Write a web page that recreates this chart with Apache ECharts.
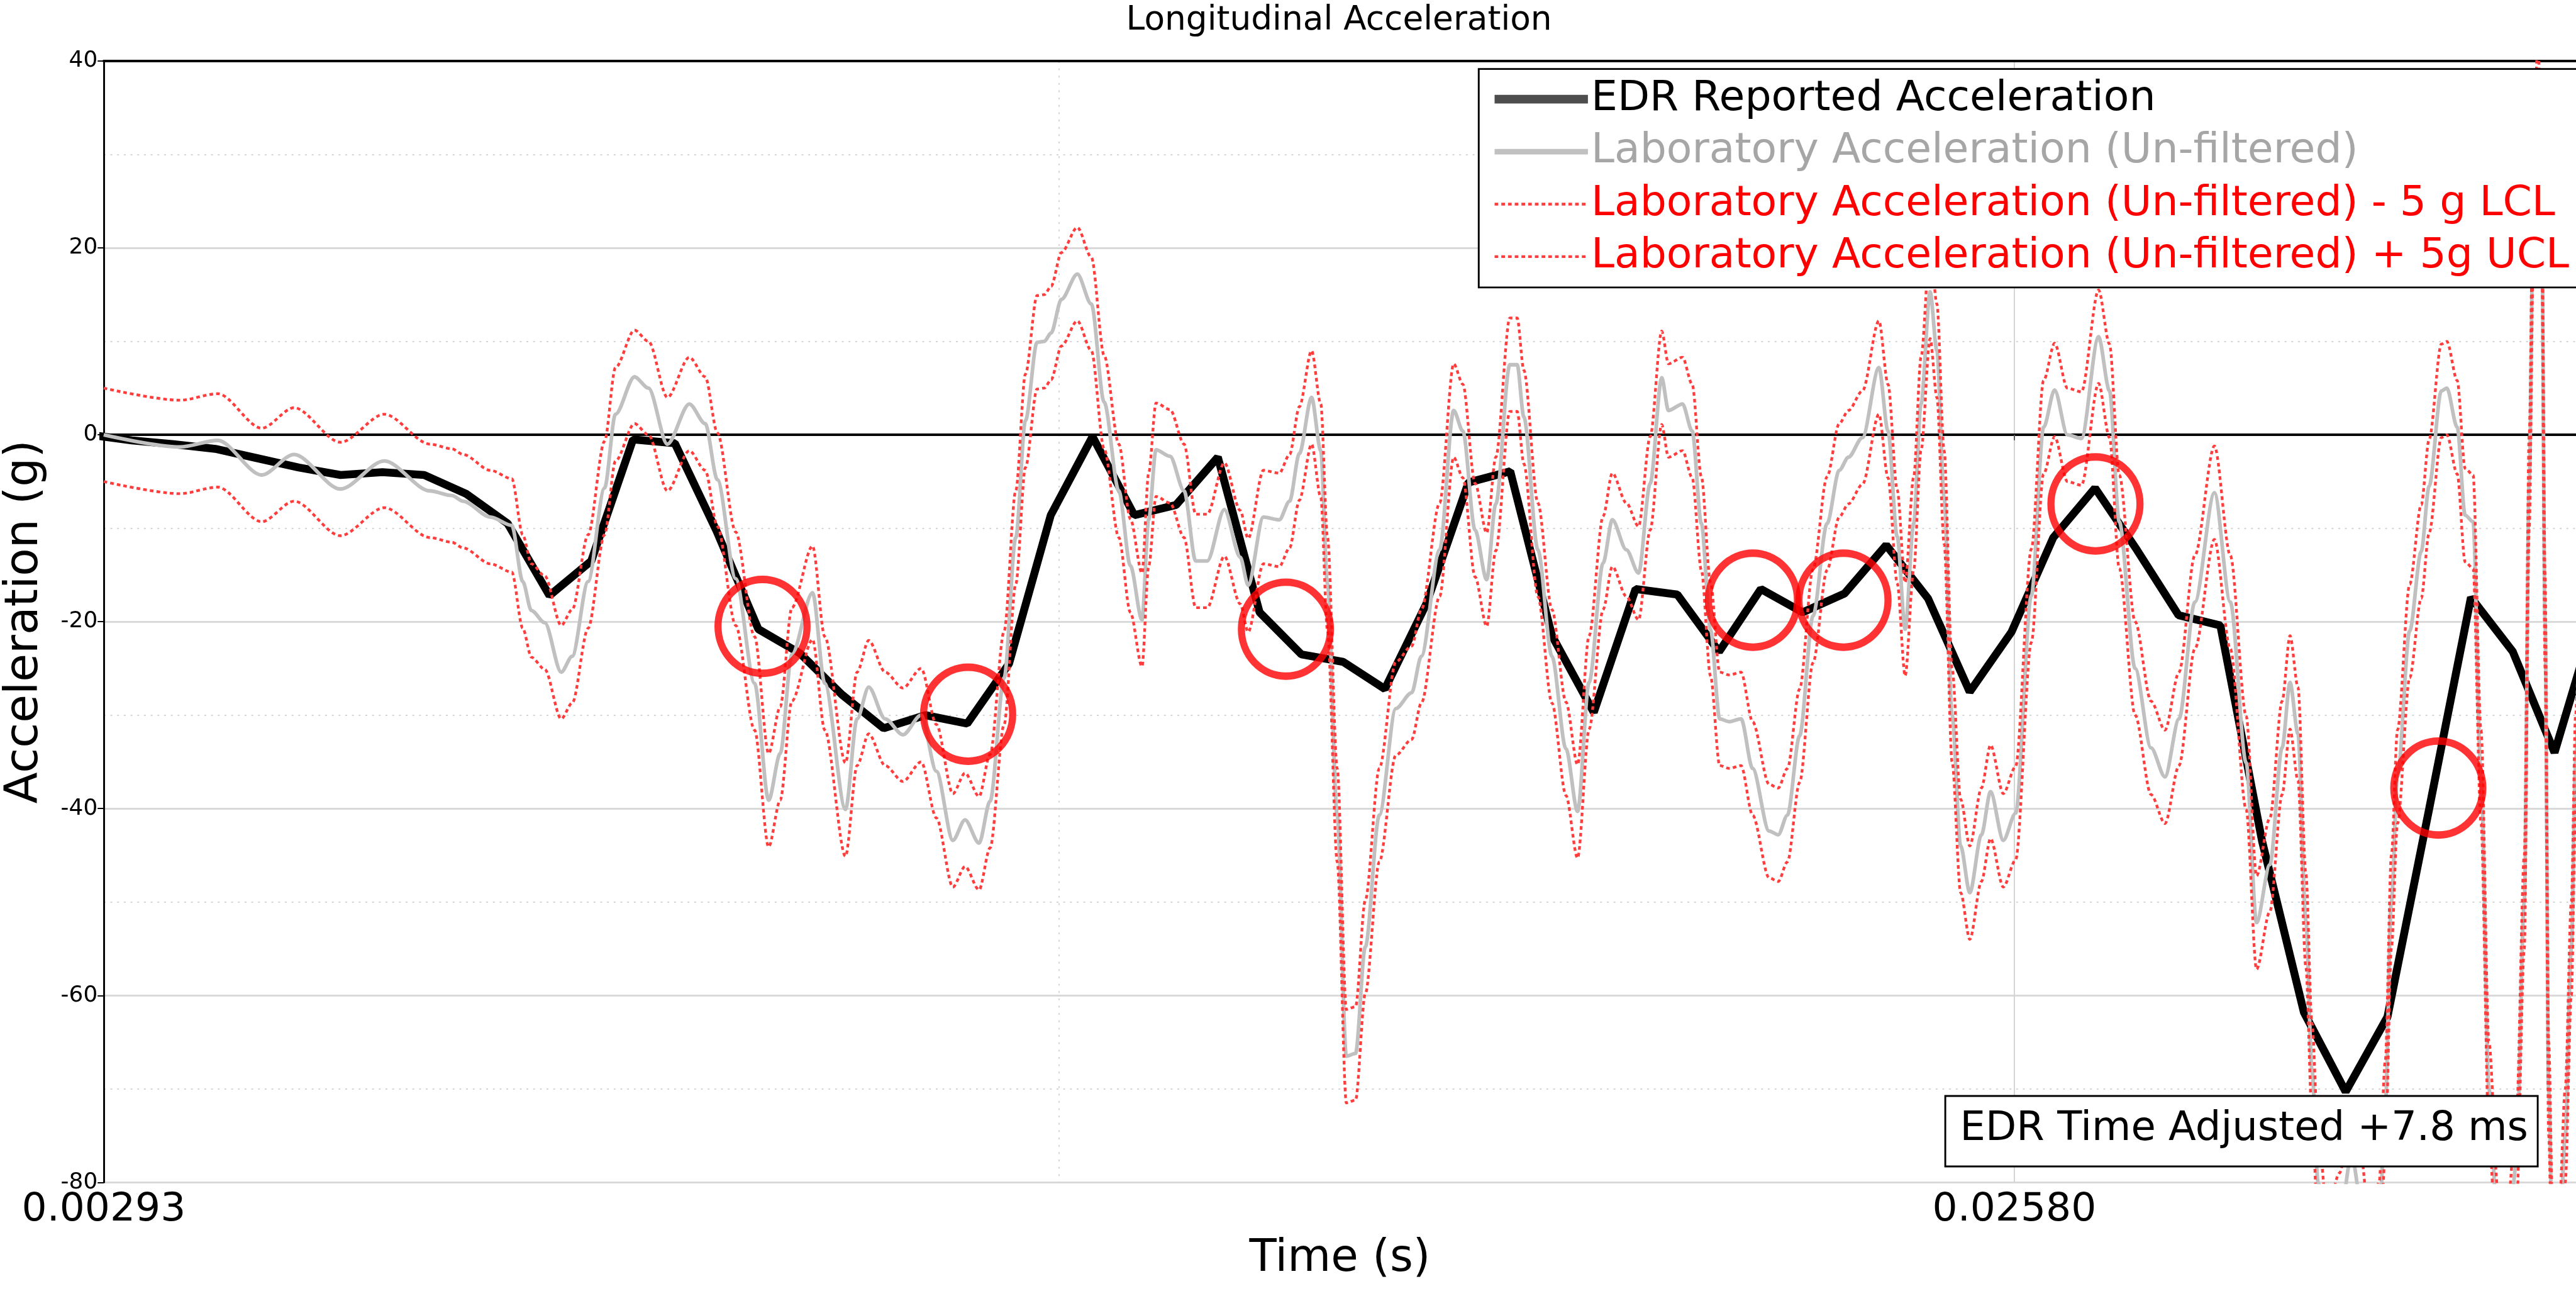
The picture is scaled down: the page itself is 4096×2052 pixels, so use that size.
<!DOCTYPE html>
<html>
<head>
<meta charset="utf-8">
<title>Longitudinal Acceleration</title>
<script src="https://cdn.jsdelivr.net/npm/echarts@6.0.0/dist/echarts.min.js"></script>
<style>
  html, body { margin: 0; padding: 0; background: #fff; }
  #chart { width: 4096px; height: 2052px; }
</style>
</head>
<body>
<div id="chart"></div>
<script>
// everything below is laid out in reference pixels and scaled by S
const S = 0.97;
const FONT = 'DejaVu Sans';

// EDR reported acceleration, 0.5 ms samples (time already shifted +7.8 ms)
const edrTime = [
  0.002766, 0.003266, 0.003766, 0.004266, 0.004766, 0.005266, 0.005766, 0.006266, 0.006766, 0.007266,
  0.007766, 0.008266, 0.008766, 0.009266, 0.009766, 0.010266, 0.010766, 0.011266, 0.011766, 0.012266,
  0.012766, 0.013266, 0.013766, 0.014266, 0.014766, 0.015266, 0.015766, 0.016266, 0.016766, 0.017266,
  0.017766, 0.018266, 0.018766, 0.019266, 0.019766, 0.020266, 0.020766, 0.021266, 0.021766, 0.022266,
  0.022766, 0.023266, 0.023766, 0.024266, 0.024766, 0.025266, 0.025766, 0.026266, 0.026766, 0.027266,
  0.027766, 0.028266, 0.028766, 0.029266, 0.029766, 0.030266, 0.030766, 0.031266, 0.031766, 0.032266,
  0.032766
];
const edrAccel = [
  0.0, -0.6, -1.0, -1.5, -2.5, -3.5, -4.3, -4.0, -4.3, -6.3,
  -9.5, -17.2, -13.5, -0.5, -0.9, -10.3, -20.8, -23.4, -27.8, -31.4,
  -30.0, -30.9, -24.5, -8.6, -0.2, -8.6, -7.5, -2.4, -19.0, -23.5,
  -24.3, -27.2, -18.0, -5.1, -3.9, -21.5, -29.7, -16.5, -17.1, -23.2,
  -16.5, -19.0, -17.0, -11.8, -17.5, -27.5, -21.1, -11.0, -5.7, -12.3,
  -19.3, -20.4, -43.5, -61.8, -70.3, -62.3, -40.0, -17.4, -23.2, -34.0,
  -19.0
];

// laboratory acceleration (un-filtered)
const labTime = [
  0.002930, 0.003843, 0.004295, 0.004821, 0.005208, 0.005763, 0.006289, 0.006837, 0.007099, 0.007231,
  0.007559, 0.007815, 0.007946, 0.008049, 0.008209, 0.008406, 0.008538, 0.008728, 0.008925, 0.009056,
  0.009283, 0.009451, 0.009677, 0.009940, 0.010130, 0.010276, 0.010495, 0.010721, 0.010889, 0.011028,
  0.011167, 0.011415, 0.011561, 0.011809, 0.011948, 0.012087, 0.012284, 0.012496, 0.012715, 0.012897,
  0.013094, 0.013240, 0.013408, 0.013540, 0.013708, 0.013847, 0.013963, 0.014102, 0.014190, 0.014270,
  0.014394, 0.014584, 0.014752, 0.014905, 0.015081, 0.015219, 0.015358, 0.015438, 0.015526, 0.015694,
  0.015862, 0.016001, 0.016139, 0.016344, 0.016534, 0.016629, 0.016811, 0.017001, 0.017125, 0.017242,
  0.017388, 0.017498, 0.017578, 0.017695, 0.017804, 0.017914, 0.018031, 0.018199, 0.018396, 0.018586,
  0.018702, 0.018921, 0.019089, 0.019199, 0.019345, 0.019484, 0.019593, 0.019761, 0.019849, 0.019929,
  0.020097, 0.020265, 0.020433, 0.020572, 0.020710, 0.020878, 0.020988, 0.021156, 0.021302, 0.021441,
  0.021579, 0.021660, 0.021828, 0.021944, 0.022054, 0.022163, 0.022273, 0.022390, 0.022529, 0.022667,
  0.022864, 0.022974, 0.023084, 0.023230, 0.023390, 0.023558, 0.023704, 0.023814, 0.023982, 0.024179,
  0.024288, 0.024398, 0.024493, 0.024595, 0.024683, 0.024792, 0.024873, 0.024960, 0.025055, 0.025157,
  0.025267, 0.025406, 0.025515, 0.025668, 0.025815, 0.026004, 0.026150, 0.026282, 0.026435, 0.026603,
  0.026808, 0.026939, 0.027056, 0.027246, 0.027436, 0.027603, 0.027771, 0.027961, 0.028195, 0.028385,
  0.028575, 0.028699, 0.028859, 0.029005, 0.029100, 0.029195, 0.029290, 0.029363, 0.029436, 0.029546,
  0.029692, 0.029838, 0.029947, 0.030057, 0.030166, 0.030240, 0.030313, 0.030386, 0.030532, 0.030670,
  0.030765, 0.030911, 0.030977, 0.031101, 0.031196, 0.031291, 0.031386, 0.031481, 0.031590, 0.031700,
  0.031809, 0.031904, 0.031963, 0.032014, 0.032065, 0.032109, 0.032153, 0.032196, 0.032248, 0.032321,
  0.032394, 0.032467, 0.032518, 0.032613
];
const labAccel = [
  0.0, -1.3, -0.6, -4.3, -2.1, -5.8, -2.8, -6.0, -6.5, -7.1,
  -8.8, -9.7, -15.7, -18.8, -20.1, -25.4, -23.7, -15.7, -5.7, 2.2,
  6.2, 5.0, -1.0, 3.3, 1.2, -4.8, -15.4, -26.6, -39.1, -34.1,
  -23.5, -16.9, -26.6, -40.1, -30.4, -27.0, -30.4, -32.1, -30.0, -36.0,
  -43.4, -41.2, -43.7, -39.2, -26.0, -11.0, 1.5, 9.9, 10.0, 10.9,
  14.5, 17.2, 14.0, 3.5, -6.0, -14.0, -19.8, -9.1, -1.6, -2.3,
  -6.0, -13.5, -13.5, -8.0, -13.1, -16.1, -8.8, -9.1, -7.1, -2.0,
  4.0, -1.7, -15.9, -40.7, -66.5, -66.2, -54.8, -40.7, -29.3, -27.6,
  -23.7, -12.3, 2.6, 0.4, -10.2, -15.5, -7.4, 7.5, 7.5, 1.9,
  -12.3, -23.7, -33.6, -40.3, -26.5, -13.7, -9.1, -12.3, -14.8, -5.2,
  6.1, 2.6, 3.3, 0.4, -9.5, -20.8, -30.4, -30.7, -30.4, -35.7,
  -42.4, -42.8, -40.7, -32.2, -19.4, -9.5, -3.8, -2.4, -0.3, 7.2,
  0.4, -10.9, -20.8, -9.5, 3.3, 15.3, 9.0, -6.7, -30.0, -44.0,
  -49.0, -42.8, -38.2, -43.4, -40.5, -17.2, 0.8, 4.8, 0.0, -0.4,
  10.5, 4.7, -9.3, -25.0, -33.5, -36.6, -30.4, -17.9, -6.2, -17.9,
  -35.1, -52.2, -46.0, -33.5, -26.5, -32.0, -52.0, -68.0, -80.0, -88.0,
  -84.0, -77.0, -82.0, -90.0, -85.0, -72.0, -50.0, -36.6, -21.0, -12.5,
  -5.5, 4.7, 5.0, 0.8, -8.6, -9.3, -36.6, -70.0, -86.0, -88.0,
  -78.0, -50.0, -5.0, 25.0, 37.0, 28.0, -20.0, -70.0, -90.0, -88.0,
  -75.0, -55.0, -35.0, 0.0
];
// lower control limit (lab - 5 g)
const labLower = [
  -5.0, -6.3, -5.6, -9.3, -7.1, -10.8, -7.8, -11.0, -11.5, -12.1,
  -13.8, -14.7, -20.7, -23.8, -25.1, -30.4, -28.7, -20.7, -10.7, -2.8,
  1.2, 0.0, -6.0, -1.7, -3.8, -9.8, -20.4, -31.6, -44.1, -39.1,
  -28.5, -21.9, -31.6, -45.1, -35.4, -32.0, -35.4, -37.1, -35.0, -41.0,
  -48.4, -46.2, -48.7, -44.2, -31.0, -16.0, -3.5, 4.9, 5.0, 5.9,
  9.5, 12.2, 9.0, -1.5, -11.0, -19.0, -24.8, -14.1, -6.6, -7.3,
  -11.0, -18.5, -18.5, -13.0, -18.1, -21.1, -13.8, -14.1, -12.1, -7.0,
  -1.0, -6.7, -20.9, -45.7, -71.5, -71.2, -59.8, -45.7, -34.3, -32.6,
  -28.7, -17.3, -2.4, -4.6, -15.2, -20.5, -12.4, 2.5, 2.5, -3.1,
  -17.3, -28.7, -38.6, -45.3, -31.5, -18.7, -14.1, -17.3, -19.8, -10.2,
  1.1, -2.4, -1.7, -4.6, -14.5, -25.8, -35.4, -35.7, -35.4, -40.7,
  -47.4, -47.8, -45.7, -37.2, -24.4, -14.5, -8.8, -7.4, -5.3, 2.2,
  -4.6, -15.9, -25.8, -14.5, -1.7, 10.3, 4.0, -11.7, -35.0, -49.0,
  -54.0, -47.8, -43.2, -48.4, -45.5, -22.2, -4.2, -0.2, -5.0, -5.4,
  5.5, -0.3, -14.3, -30.0, -38.5, -41.6, -35.4, -22.9, -11.2, -22.9,
  -40.1, -57.2, -51.0, -38.5, -31.5, -37.0, -57.0, -73.0, -85.0, -93.0,
  -89.0, -82.0, -87.0, -95.0, -90.0, -77.0, -55.0, -41.6, -26.0, -17.5,
  -10.5, -0.3, 0.0, -4.2, -13.6, -14.3, -41.6, -75.0, -91.0, -93.0,
  -83.0, -55.0, -10.0, 20.0, 32.0, 23.0, -25.0, -75.0, -95.0, -93.0,
  -80.0, -60.0, -40.0, -5.0
];
// upper control limit (lab + 5 g)
const labUpper = [
  5.0, 3.7, 4.4, 0.7, 2.9, -0.8, 2.2, -1.0, -1.5, -2.1,
  -3.8, -4.7, -10.7, -13.8, -15.1, -20.4, -18.7, -10.7, -0.7, 7.2,
  11.2, 10.0, 4.0, 8.3, 6.2, 0.2, -10.4, -21.6, -34.1, -29.1,
  -18.5, -11.9, -21.6, -35.1, -25.4, -22.0, -25.4, -27.1, -25.0, -31.0,
  -38.4, -36.2, -38.7, -34.2, -21.0, -6.0, 6.5, 14.9, 15.0, 15.9,
  19.5, 22.2, 19.0, 8.5, -1.0, -9.0, -14.8, -4.1, 3.4, 2.7,
  -1.0, -8.5, -8.5, -3.0, -8.1, -11.1, -3.8, -4.1, -2.1, 3.0,
  9.0, 3.3, -10.9, -35.7, -61.5, -61.2, -49.8, -35.7, -24.3, -22.6,
  -18.7, -7.3, 7.6, 5.4, -5.2, -10.5, -2.4, 12.5, 12.5, 6.9,
  -7.3, -18.7, -28.6, -35.3, -21.5, -8.7, -4.1, -7.3, -9.8, -0.2,
  11.1, 7.6, 8.3, 5.4, -4.5, -15.8, -25.4, -25.7, -25.4, -30.7,
  -37.4, -37.8, -35.7, -27.2, -14.4, -4.5, 1.2, 2.6, 4.7, 12.2,
  5.4, -5.9, -15.8, -4.5, 8.3, 20.3, 14.0, -1.7, -25.0, -39.0,
  -44.0, -37.8, -33.2, -38.4, -35.5, -12.2, 5.8, 9.8, 5.0, 4.6,
  15.5, 9.7, -4.3, -20.0, -28.5, -31.6, -25.4, -12.9, -1.2, -12.9,
  -30.1, -47.2, -41.0, -28.5, -21.5, -27.0, -47.0, -63.0, -75.0, -83.0,
  -79.0, -72.0, -77.0, -85.0, -80.0, -67.0, -45.0, -31.6, -16.0, -7.5,
  -0.5, 9.7, 10.0, 5.8, -3.6, -4.3, -31.6, -65.0, -81.0, -83.0,
  -73.0, -45.0, 0.0, 30.0, 42.0, 33.0, -15.0, -65.0, -85.0, -83.0,
  -70.0, -50.0, -30.0, 5.0
];

// red rings marking the compared points
const circleTime = [0.010816, 0.013277, 0.017081, 0.022671, 0.023755, 0.026771, 0.030875];
const circleAccel = [-20.5, -29.9, -20.8, -17.7, -17.7, -7.4, -37.8];

const seriesNames = [
  'EDR Reported Acceleration',
  'Laboratory Acceleration (Un-filtered)',
  'Laboratory Acceleration (Un-filtered) - 5 g LCL',
  'Laboratory Acceleration (Un-filtered) + 5g UCL'
];

const xMin = 0.00293;
const xMax = 0.032523;
const xStep = 0.02287;

function pairs(xs, ys) {
  return xs.map((x, i) => [x, ys[i]]);
}

const chart = echarts.init(document.getElementById('chart'));

const RED = '#ff3d3d';
const redDots = { color: RED, width: 4.5 * S, type: [6 * S, 5 * S] };
// hide the little marker the legend puts in the middle of a line icon
const noMarker = { opacity: 0 };

const option = {
  animation: false,
  backgroundColor: '#fff',
  title: [
    {
      text: 'Longitudinal Acceleration',
      left: 2195 * S,
      top: 7,
      textAlign: 'center',
      padding: 0,
      textStyle: { fontFamily: FONT, fontSize: 55 * S, fontWeight: 'normal', color: '#000' }
    },
    {
      text: 'EDR Time Adjusted +7.8 ms',
      left: 3188 * S,
      top: 1796 * S,
      padding: [19 * S, 16 * S, 25 * S, 25 * S],
      backgroundColor: '#fff',
      borderColor: '#000',
      borderWidth: 3 * S,
      textStyle: { fontFamily: FONT, fontSize: 66 * S, fontWeight: 'normal', color: '#000', lineHeight: 72 * S }
    }
  ],
  legend: {
    orient: 'vertical',
    left: 2424 * S,
    top: 113 * S,
    padding: [15 * S, 16 * S, 16 * S, 19 * S],
    itemGap: 17 * S,
    itemWidth: 153 * S,
    itemHeight: 20 * S,
    backgroundColor: '#fff',
    borderColor: '#000',
    borderWidth: 3 * S,
    borderRadius: 0,
    selectedMode: false,
    textStyle: { fontFamily: FONT, fontSize: 68.5 * S, lineHeight: 69 * S },
    data: [
      { name: seriesNames[0], textStyle: { color: '#000' }, itemStyle: noMarker, lineStyle: { color: '#4d4d4d', width: 14 * S } },
      { name: seriesNames[1], textStyle: { color: '#a6a6a6' }, itemStyle: noMarker, lineStyle: { color: '#c0c0c0', width: 9 * S } },
      { name: seriesNames[2], textStyle: { color: '#ff0000' }, itemStyle: noMarker, lineStyle: redDots },
      { name: seriesNames[3], textStyle: { color: '#ff0000' }, itemStyle: noMarker, lineStyle: redDots }
    ]
  },
  grid: {
    left: 170 * S,
    top: 100 * S,
    right: 0,
    bottom: 178 * S,
    outerBoundsMode: 'none'
  },
  xAxis: [
    {
      type: 'value',
      min: xMin,
      max: xMax,
      interval: xStep,
      name: 'Time (s)',
      nameLocation: 'middle',
      nameGap: 87,
      nameTextStyle: { fontFamily: FONT, fontSize: 73 * S, color: '#000' },
      axisLine: { show: true, lineStyle: { color: '#000', width: 4 * S } },
      axisTick: { show: true, length: 9 * S, lineStyle: { color: '#555', width: 2 * S } },
      axisLabel: {
        fontFamily: FONT, fontSize: 65 * S, color: '#000', margin: 12.5,
        showMinLabel: true, showMaxLabel: false,
        formatter: v => v.toFixed(5)
      },
      splitLine: { show: true, showMinLine: false, showMaxLine: false, lineStyle: { color: '#d4d4d4', width: 2 * S } },
      minorTick: { show: false, splitNumber: 2 },
      minorSplitLine: { show: true, lineStyle: { color: '#d4d4d4', width: 2 * S, type: [3 * S, 9 * S] } }
    },
    {
      // top border of the plot
      type: 'value',
      position: 'top',
      min: xMin,
      max: xMax,
      axisLine: { show: true, lineStyle: { color: '#000', width: 4 * S } },
      axisTick: { show: false },
      axisLabel: { show: false },
      splitLine: { show: false }
    }
  ],
  yAxis: {
    type: 'value',
    min: -80,
    max: 40,
    interval: 20,
    name: 'Acceleration (g)',
    nameLocation: 'middle',
    nameGap: 88,
    nameTextStyle: { fontFamily: FONT, fontSize: 75 * S, color: '#000' },
    axisLine: { show: true, lineStyle: { color: '#000', width: 3 * S } },
    axisTick: { show: true, length: 10 * S, lineStyle: { color: '#000', width: 2 * S } },
    axisLabel: { fontFamily: FONT, fontSize: 37 * S, color: '#000', margin: 10 * S },
    splitLine: {
      show: true,
      // -80, -60, -40, -20, 0 (black zero line), 20, 40
      lineStyle: { color: ['#d9d9d9', '#d9d9d9', '#d9d9d9', '#d9d9d9', '#000', '#d9d9d9', '#d9d9d9'], width: 3 * S }
    },
    minorTick: { show: false, splitNumber: 2 },
    minorSplitLine: { show: true, lineStyle: { color: '#d4d4d4', width: 2 * S, type: [3 * S, 8 * S] } }
  },
  series: [
    {
      name: seriesNames[0],
      type: 'line',
      data: pairs(edrTime, edrAccel),
      symbol: 'none',
      silent: true,
      itemStyle: { color: '#000' },
      lineStyle: { color: '#000', width: 13 * S }
    },
    {
      name: seriesNames[1],
      type: 'line',
      data: pairs(labTime, labAccel),
      symbol: 'none',
      silent: true,
      smooth: 0.3,
      smoothMonotone: 'x',
      itemStyle: { color: '#c0c0c0' },
      lineStyle: { color: '#c0c0c0', width: 6 * S }
    },
    {
      name: seriesNames[2],
      type: 'line',
      data: pairs(labTime, labLower),
      symbol: 'none',
      silent: true,
      smooth: 0.3,
      smoothMonotone: 'x',
      itemStyle: { color: RED },
      lineStyle: redDots
    },
    {
      name: seriesNames[3],
      type: 'line',
      data: pairs(labTime, labUpper),
      symbol: 'none',
      silent: true,
      smooth: 0.3,
      smoothMonotone: 'x',
      itemStyle: { color: RED },
      lineStyle: redDots
    },
    {
      type: 'scatter',
      data: pairs(circleTime, circleAccel),
      symbol: 'circle',
      symbolSize: [146 * S, 154 * S],
      silent: true,
      z: 5,
      itemStyle: { color: 'rgba(0,0,0,0)', borderColor: '#ff0000', borderWidth: 12 * S }
    }
  ]
};

chart.setOption(option);
</script>
</body>
</html>
